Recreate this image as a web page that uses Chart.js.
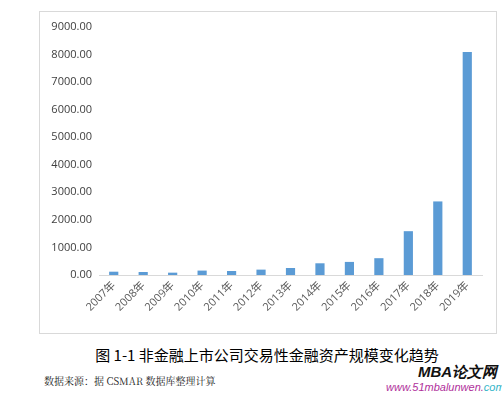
<!DOCTYPE html>
<html>
<head>
<meta charset="utf-8">
<script src="https://cdn.jsdelivr.net/npm/chart.js@4/dist/chart.umd.min.js"></script>
<style>
  html, body { margin: 0; padding: 0; background: #fff; }
  body { width: 502px; height: 393px; position: relative; overflow: hidden; font-family: "Noto Sans CJK SC", "Noto Sans", sans-serif; }
  #box { position: absolute; left: 39px; top: 11px; width: 456px; height: 321px; border: 1px solid #d9d9d9; box-sizing: content-box; }
  #box canvas { display: block; }
  #caption { position: absolute; left: 0; width: 534px; top: 345px; text-align: center; font-size: 15px; letter-spacing: 0px; color: #000; line-height: 20px; white-space: nowrap; }
  #source { position: absolute; left: 44px; top: 374px; font-size: 10px; color: #222; line-height: 14px; white-space: nowrap; font-family: "Noto Serif CJK SC", "Noto Sans CJK SC", serif; }
  #wm1 { position: absolute; left: 418px; top: 363px; font-size: 15px; font-weight: bold; font-style: italic; color: #111; font-family: "Liberation Sans", Arial, sans-serif; line-height: 18px; white-space: nowrap; }
  #wm2 { position: absolute; left: 386px; top: 381px; font-size: 11px; font-style: italic; color: #b0309b; font-family: "Liberation Sans", Arial, sans-serif; line-height: 13px; white-space: nowrap; letter-spacing: 0px; }
  #wm2 span { color: #33b5c8; }
</style>
</head>
<body>
<div id="box"><canvas id="c" width="456" height="321"></canvas></div>
<div id="caption">图 1-1 非金融上市公司交易性金融资产规模变化趋势</div>
<div id="source">数据来源：据 CSMAR 数据库整理计算</div>
<div id="wm1">MBA论文网</div>
<div id="wm2">www.51mbalunwen.<span>com</span></div>
<script>
const categories = ["2007年","2008年","2009年","2010年","2011年","2012年","2013年","2014年","2015年","2016年","2017年","2018年","2019年"];
const values = [120, 110, 85, 160, 145, 195, 255, 425, 475, 610, 1590, 2670, 8090];
const yTicks = [0, 1000, 2000, 3000, 4000, 5000, 6000, 7000, 8000, 9000];

new Chart(document.getElementById('c'), {
  type: 'bar',
  data: {
    labels: categories,
    datasets: [{
      data: values,
      backgroundColor: '#5b9bd5',
      borderWidth: 0,
      barPercentage: 0.6,
      categoryPercentage: 0.52
    }]
  },
  options: {
    responsive: false,
    animation: false,
    devicePixelRatio: 1,
    layout: { padding: { top: 15, right: 14, left: 0, bottom: 0 } },
    plugins: { legend: { display: false }, tooltip: { enabled: false } },
    scales: {
      x: {
        grid: { display: false, drawTicks: false },
        border: { color: '#d9d9d9', width: 1 },
        ticks: {
          color: '#595959',
          font: { size: 11, family: "'Open Sans', 'Noto Sans CJK SC', sans-serif" },
          minRotation: 45, maxRotation: 45,
          padding: 4,
          autoSkip: false
        },
        afterFit: (s) => { s.height = 58; }
      },
      y: {
        min: 0, max: 9000,
        afterBuildTicks: (s) => { s.ticks = yTicks.map(v => ({ value: v })); },
        grid: { display: false, drawTicks: false },
        border: { display: false },
        ticks: {
          color: '#404040',
          font: { size: 11, family: "'Open Sans', sans-serif" },
          padding: 7,
          callback: (v) => Number(v).toFixed(2)
        },
        afterFit: (s) => { s.width = 59; }
      }
    }
  }
});
</script>
</body>
</html>
